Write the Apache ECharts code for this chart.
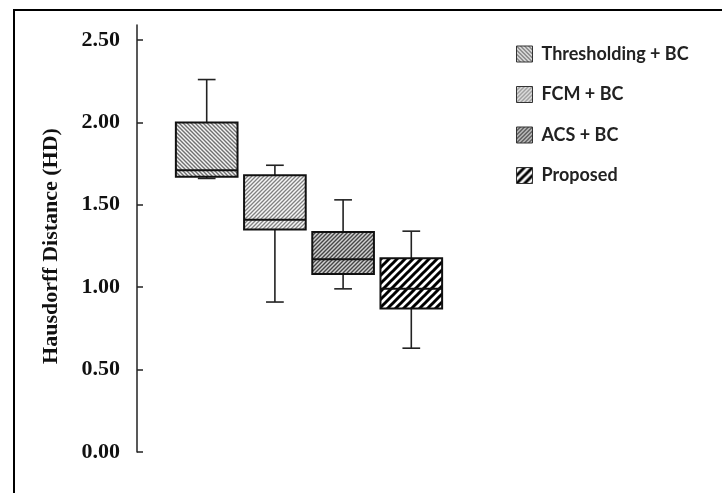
<!DOCTYPE html>
<html><head><meta charset="utf-8">
<script src="https://cdn.jsdelivr.net/npm/echarts@6/dist/echarts.min.js"></script>
<style>
html,body{margin:0;padding:0;background:#fff;}
#c{width:722px;height:493px;}
#frame{position:absolute;left:13px;top:9px;right:0;bottom:0;border-left:2px solid #000;border-top:2px solid #000;pointer-events:none;}
</style></head><body><div id="c"></div><div id="frame"></div>
<script>
// ---- data ----
const categories = ['Thresholding + BC', 'FCM + BC', 'ACS + BC', 'Proposed'];
const whiskerMin = [1.66, 0.91, 0.99, 0.63];
const q1 = [1.67, 1.35, 1.08, 0.87];
const median = [1.71, 1.41, 1.17, 0.99];
const q3 = [2.00, 1.68, 1.335, 1.175];
const whiskerMax = [2.26, 1.74, 1.53, 1.34];
const yMin = 0, yMax = 2.5, yStep = 0.5;

// ---- hatch patterns ----
function hatch(size, dir, bg, fg, lw) {
  const c = document.createElement('canvas');
  c.width = c.height = size;
  const g = c.getContext('2d');
  g.fillStyle = bg; g.fillRect(0, 0, size, size);
  g.strokeStyle = fg; g.lineWidth = lw; g.beginPath();
  for (let k = -2; k <= 2; k++) {
    if (dir === '/') { g.moveTo(k * size - size, 2 * size); g.lineTo(k * size + 2 * size, -size); }
    else { g.moveTo(k * size - size, -size); g.lineTo(k * size + 2 * size, 2 * size); }
  }
  g.stroke();
  return { image: c, repeat: 'repeat' };
}
const patterns = [
  hatch(4, '\\', '#f4f4f4', '#707070', 1.4),
  hatch(4, '/', '#f6f6f6', '#808080', 1.3),
  hatch(4, '/', '#d0d0d0', '#454545', 1.4),
  hatch(8, '/', '#ffffff', '#000000', 3)
];

function makeRender(fill) {
  return function (params, api) {
    const x = api.value(0);
    const pMin = api.coord([x, api.value(1)]);
    const pQ1 = api.coord([x, api.value(2)]);
    const pMed = api.coord([x, api.value(3)]);
    const pQ3 = api.coord([x, api.value(4)]);
    const pMax = api.coord([x, api.value(5)]);
    const band = api.size([1, 0])[0];
    const half = band * 0.452, cap = band * 0.13;
    const cx = pMed[0];
    const ws = { stroke: '#222', lineWidth: 1.6 };
    return {
      type: 'group', children: [
        { type: 'line', shape: { x1: cx, y1: pQ3[1], x2: cx, y2: pMax[1] }, style: ws },
        { type: 'line', shape: { x1: cx - cap, y1: pMax[1], x2: cx + cap, y2: pMax[1] }, style: ws },
        { type: 'line', shape: { x1: cx, y1: pQ1[1], x2: cx, y2: pMin[1] }, style: ws },
        { type: 'line', shape: { x1: cx - cap, y1: pMin[1], x2: cx + cap, y2: pMin[1] }, style: ws },
        { type: 'rect', shape: { x: cx - half, y: pQ3[1], width: 2 * half, height: pQ1[1] - pQ3[1] },
          style: { fill: fill, stroke: '#111', lineWidth: 2 } },
        { type: 'line', shape: { x1: cx - half, y1: pMed[1], x2: cx + half, y2: pMed[1] },
          style: { stroke: '#111', lineWidth: 2 } }
      ]
    };
  };
}

const series = categories.map((name, i) => ({
  type: 'custom',
  name: name,
  xAxisIndex: 0, yAxisIndex: 0,
  itemStyle: { color: patterns[i] },
  encode: { x: 0, y: [1, 2, 3, 4, 5] },
  data: [[i + 1, whiskerMin[i], q1[i], median[i], q3[i], whiskerMax[i]]],
  renderItem: makeRender(patterns[i])
}));

const chart = echarts.init(document.getElementById('c'), null, { renderer: 'canvas' });
const serifBold = { fontFamily: 'Liberation Serif', fontWeight: 'bold', fontSize: 22, color: '#111' };
chart.setOption({
  animation: false,
  backgroundColor: '#fff',
  grid: [
    { left: 138.5, top: 40, width: 341, bottom: 41 },
    { left: 137, top: 25, width: 100, bottom: 41 }
  ],
  xAxis: [
    { type: 'category', gridIndex: 0, data: [''].concat(categories, ['']), boundaryGap: false, show: false },
    { type: 'value', gridIndex: 1, show: false }
  ],
  yAxis: [
    {
      type: 'value', gridIndex: 0, min: yMin, max: yMax, interval: yStep, offset: 1.5,
      axisLine: { show: false },
      axisTick: { show: true, inside: true, length: 6, lineStyle: { color: '#222', width: 1.5 } },
      splitLine: { show: false },
      axisLabel: { margin: 17, formatter: v => v.toFixed(2), ...serifBold },
      name: 'Hausdorff Distance (HD)', nameLocation: 'middle', nameGap: 75,
      nameTextStyle: serifBold
    },
    {
      type: 'value', gridIndex: 1,
      axisLine: { show: true, lineStyle: { color: '#222', width: 1.5 } },
      axisTick: { show: false }, axisLabel: { show: false }, splitLine: { show: false }
    }
  ],
  legend: {
    data: categories, orient: 'vertical', left: 516, top: 45, padding: 0,
    itemWidth: 16, itemHeight: 16, itemGap: 22.5, icon: 'rect',
    itemStyle: { borderColor: '#333', borderWidth: 1 },
    textStyle: { fontFamily: 'Lato', fontWeight: 'bold', fontSize: 18, lineHeight: 16, color: '#222', padding: [0, 0, 0, 4] }
  },
  series: series
});
</script></body></html>
